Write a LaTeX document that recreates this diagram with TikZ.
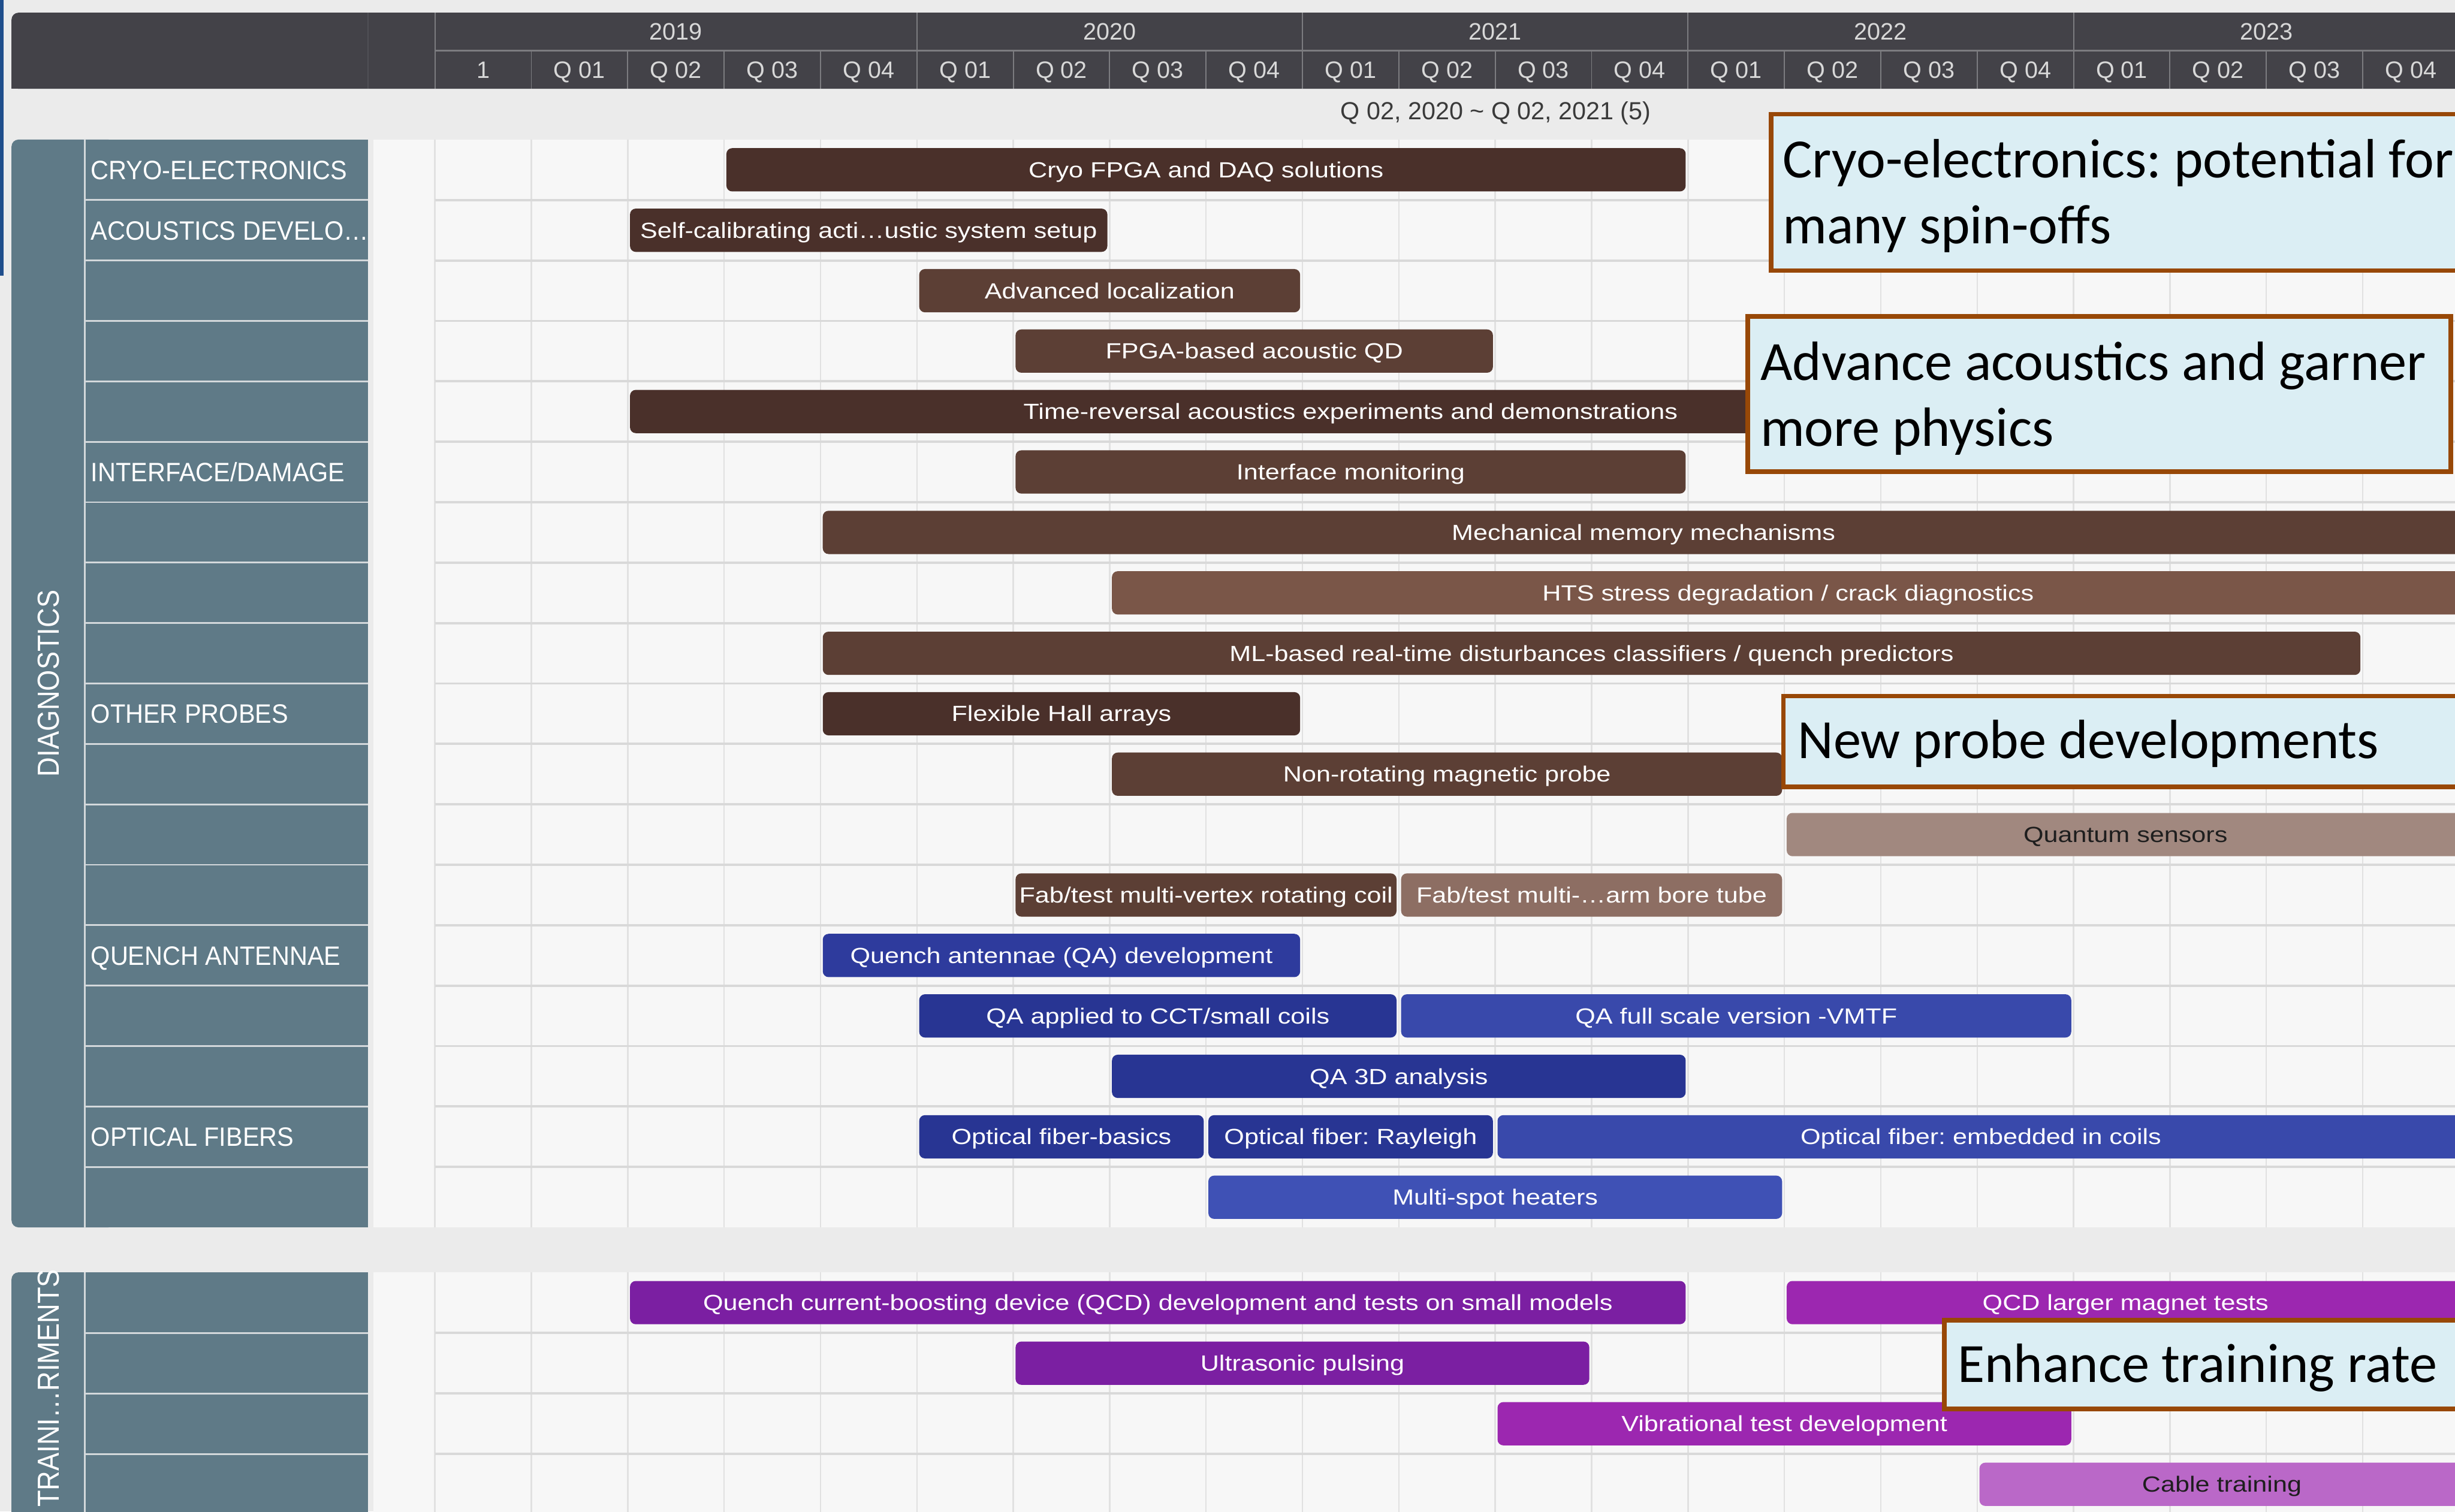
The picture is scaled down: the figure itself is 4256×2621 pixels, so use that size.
\documentclass[tikz,border=0pt]{standalone}
\usepackage{fontspec}
\setmainfont{Liberation Sans}
\newfontfamily\calloutfont{Carlito}
\usepackage{graphicx}
\frenchspacing

% palette
\definecolor{pagebg}{HTML}{EBEBEB}
\definecolor{edgeblue}{HTML}{1F4E8C}
\definecolor{gridbg}{HTML}{F7F7F7}
\definecolor{gridline}{HTML}{E1E1E1}
\definecolor{gridlineH}{HTML}{D9D9D9}
\definecolor{headbg}{HTML}{434248}
\definecolor{headline}{HTML}{7C7C80}
\definecolor{headfaint}{HTML}{505056}
\definecolor{headtext}{HTML}{D8D8D8}
\definecolor{rangetext}{HTML}{3A3A3A}
\definecolor{slate}{HTML}{5F7A87}
\definecolor{slatesep}{HTML}{D3D8DB}
\definecolor{brA}{HTML}{4A302A}
\definecolor{brB}{HTML}{5C3F35}
\definecolor{brC}{HTML}{7A5648}
\definecolor{brD}{HTML}{8D6E63}
\definecolor{brE}{HTML}{A1887F}
\definecolor{inA}{HTML}{283593}
\definecolor{inB}{HTML}{2E3B9D}
\definecolor{inC}{HTML}{3949AB}
\definecolor{inD}{HTML}{3F51B5}
\definecolor{puA}{HTML}{7B1FA2}
\definecolor{puB}{HTML}{9C27B0}
\definecolor{puC}{HTML}{BA68C8}
\definecolor{darktext}{HTML}{1E1E1E}
\definecolor{noteFill}{HTML}{DBEEF4}
\definecolor{noteLine}{HTML}{984807}

% type
\newcommand{\barfont}{\fontsize{10.8pt}{12pt}\selectfont}
\newcommand{\catfont}{\fontsize{13.1pt}{15pt}\selectfont}
\newcommand{\grpfont}{\fontsize{15pt}{17pt}\selectfont}
\newcommand{\headfont}{\fontsize{11.7pt}{13pt}\selectfont}
\newcommand{\notefont}{\calloutfont\fontsize{27.3pt}{32pt}\selectfont}
\newcommand{\hwide}[1]{\scalebox{1.18}[1]{#1}}
\newcommand{\hnarrow}[1]{\scalebox{0.89}[1]{#1}}
\newcommand{\hcat}[1]{\scalebox{0.935}[1]{#1}}

% one task bar: name, centre y, start quarter, end quarter, fill, text colour, label
\newcommand{\gbar}[7]{%
  \pgfmathsetmacro{\xa}{754+#3*167.1+4}%
  \pgfmathsetmacro{\xb}{min(754+#4*167.1-4,4272)}%
  \pgfmathsetmacro{\xm}{(\xa+\xb)/2}%
  \pgfmathsetmacro{\bw}{(\xb-\xa)*0.01}%
  \node[barbox, fill=#5, text=#6, minimum width=\bw cm] (#1) at (\xm,#2) {\hwide{#7}};%
}

\begin{document}
\begin{tikzpicture}[x=0.01cm, y=-0.01cm,
  barbox/.style={rectangle, rounded corners=0.1cm, inner sep=0pt, minimum height=0.75cm,
                 text height=0.27cm, text depth=0pt, font=\barfont},
  cat/.style={anchor=base west, inner sep=0pt, text=white, font=\catfont},
  grp/.style={rotate=90, inner sep=0pt, text=white, font=\grpfont},
  hlab/.style={inner sep=0pt, text=headtext, font=\headfont, text height=0.29cm, text depth=0pt},
  notebox/.style={draw=noteLine, fill=noteFill, line width=0.08cm, inner sep=0pt},
  notetext/.style={anchor=base west, inner sep=0pt, font=\notefont, text=black},
  gridv/.style={draw=gridline, line width=0.025cm},
  gridh/.style={draw=gridlineH, line width=0.04cm},
  sep/.style={draw=slatesep, line width=0.03cm},
]
\useasboundingbox (0,0) rectangle (4256,2621);
\clip (0,0) rectangle (4256,2621);
\fill[pagebg] (0,0) rectangle (4256,2621);
\fill[edgeblue] (0,0) rectangle (6,478);

% ---------- timeline header ----------
\fill[headbg, rounded corners=0.12cm] (20,22) rectangle (4400,154);
\fill[headbg] (20,100) rectangle (80,154);
\draw[headfaint, line width=0.02cm] (638,22) -- (638,154);
\draw[headline, line width=0.03cm] (754,88) -- (4300,88);
\foreach \k in {0,5,9,13,17,21}
  \draw[headline, line width=0.02cm] ({754+\k*167.1},22) -- ({754+\k*167.1},154);
\foreach \k in {1,2,3,4,6,7,8,10,11,12,14,15,16,18,19,20}
  \draw[headline, line width=0.02cm] ({754+\k*167.1},88) -- ({754+\k*167.1},154);

\node[hlab] (y2019) at (1171.8,55) {2019};
\node[hlab] (y2020) at (1923.7,55) {2020};
\node[hlab] (y2021) at (2592.1,55) {2021};
\node[hlab] (y2022) at (3260.5,55) {2022};
\node[hlab] (y2023) at (3928.9,55) {2023};
\node[hlab] (q0) at ({754+0.5*167.1},121) {1};
\foreach \k in {1,...,20}{
  \pgfmathtruncatemacro{\qn}{mod(\k-1,4)+1}
  \node[hlab] (q\k) at ({754+(\k+0.5)*167.1},121) {Q 0\qn};
}
\node[hlab, text=rangetext, font=\fontsize{12.2pt}{14pt}\selectfont] (range) at (2593,193)
  {Q 02, 2020 \textasciitilde\ Q 02, 2021 (5)};

% ---------- grid area ----------
\fill[gridbg] (647,242) rectangle (4300,2128);
\fill[gridbg] (647,2206) rectangle (4300,2700);
\foreach \k in {0,...,21}{
  \draw[gridv] ({754+\k*167.1},242) -- ({754+\k*167.1},2128);
  \draw[gridv] ({754+\k*167.1},2206) -- ({754+\k*167.1},2700);
}
\foreach \i in {1,...,17}
  \draw[gridh] (754,{242+\i*104.78}) -- (4300,{242+\i*104.78});
\foreach \j in {1,2,3}
  \draw[gridh] (754,{2206+\j*105}) -- (4300,{2206+\j*105});

% ---------- row headers ----------
\fill[slate, rounded corners=0.12cm] (20,242) rectangle (200,2128);
\fill[slate] (146,242) rectangle (638,2128);
\fill[slate, rounded corners=0.12cm] (20,2206) rectangle (200,2760);
\fill[slate] (146,2206) rectangle (638,2760);
\draw[sep] (147,242) -- (147,2128);
\draw[sep] (147,2206) -- (147,2700);
\foreach \i in {1,...,17}
  \draw[sep] (148,{242+\i*104.78}) -- (638,{242+\i*104.78});
\foreach \j in {1,2,3}
  \draw[sep] (148,{2206+\j*105}) -- (638,{2206+\j*105});

\node[grp] (gDiag) at (84,1185) {\hnarrow{DIAGNOSTICS}};
\node[grp] (gTrain) at (84,2407) {\hnarrow{TRAINI…RIMENTS}};

\node[cat] (cCryo) at (157,311.0) {\hcat{CRYO-ELECTRONICS}};
\node[cat] (cAcou) at (157,415.7) {\hcat{ACOUSTICS DEVELO…}};
\node[cat] (cIntf) at (157,834.8) {\hcat{INTERFACE/DAMAGE}};
\node[cat] (cProb) at (157,1254.0) {\hcat{OTHER PROBES}};
\node[cat] (cQant) at (157,1673.1) {\hcat{QUENCH ANTENNAE}};
\node[cat] (cOpti) at (157,1987.5) {\hcat{OPTICAL FIBERS}};

% ---------- task bars ----------
\gbar{b1}{294.4}{3}{13}{brA}{white}{Cryo FPGA and DAQ solutions}
\gbar{b2}{399.2}{2}{7}{brA}{white}{Self-calibrating acti…ustic system setup}
\gbar{b3}{504.0}{5}{9}{brB}{white}{Advanced localization}
\gbar{b4}{608.7}{6}{11}{brB}{white}{FPGA-based acoustic QD}
\gbar{b5}{713.5}{2}{17}{brA}{white}{Time-reversal acoustics experiments and demonstrations}
\gbar{b6}{818.3}{6}{13}{brB}{white}{Interface monitoring}
\gbar{b7}{923.1}{4}{30}{brB}{white}{Mechanical memory mechanisms}
\gbar{b8}{1027.9}{7}{30}{brC}{white}{HTS stress degradation / crack diagnostics}
\gbar{b9}{1132.7}{4}{20}{brB}{white}{ML-based real-time disturbances classifiers / quench predictors}
\gbar{b10}{1237.5}{4}{9}{brA}{white}{Flexible Hall arrays}
\gbar{b11}{1342.3}{7}{14}{brB}{white}{Non-rotating magnetic probe}
\gbar{b12}{1447.0}{14}{30}{brE}{darktext}{Quantum sensors}
\gbar{b13a}{1551.8}{6}{10}{brB}{white}{Fab/test multi-vertex rotating coil}
\gbar{b13b}{1551.8}{10}{14}{brD}{white}{Fab/test multi-…arm bore tube}
\gbar{b14}{1656.6}{4}{9}{inB}{white}{Quench antennae (QA) development}
\gbar{b15a}{1761.4}{5}{10}{inA}{white}{QA applied to CCT/small coils}
\gbar{b15b}{1761.4}{10}{17}{inC}{white}{QA full scale version -VMTF}
\gbar{b16}{1866.2}{7}{13}{inA}{white}{QA 3D analysis}
\gbar{b17a}{1971.0}{5}{8}{inA}{white}{Optical fiber-basics}
\gbar{b17b}{1971.0}{8}{11}{inA}{white}{Optical fiber: Rayleigh}
\gbar{b17c}{1971.0}{11}{30}{inC}{white}{Optical fiber: embedded in coils}
\gbar{b18}{2075.8}{8}{14}{inD}{white}{Multi-spot heaters}

\gbar{t1a}{2258.5}{2}{13}{puA}{white}{Quench current-boosting device (QCD) development and tests on small models}
\gbar{t1b}{2258.5}{14}{30}{puB}{white}{QCD larger magnet tests}
\gbar{t2}{2363.5}{6}{12}{puA}{white}{Ultrasonic pulsing}
\gbar{t3}{2468.5}{11}{17}{puB}{white}{Vibrational test development}
\gbar{t4}{2573.5}{16}{30}{puC}{darktext}{Cable training}

% ---------- call-out boxes ----------
\node[notebox, minimum width=12.29cm, minimum height=2.71cm] (nCryo) at (3685.5,333.5) {};
\node[notetext] (nCryo1) at (3090,308) {Cryo-electronics: potential for};
\node[notetext] (nCryo2) at (3090,422) {many spin-offs};

\node[notebox, minimum width=12.18cm, minimum height=2.69cm] (nAcou) at (3639,683.5) {};
\node[notetext] (nAcou1) at (3051,659) {Advance acoustics and garner};
\node[notetext] (nAcou2) at (3051,774) {more physics};

\node[notebox, minimum width=12.08cm, minimum height=1.57cm] (nProbe) at (3696,1285.5) {};
\node[notetext] (nProbe1) at (3116,1315) {New probe developments};

\node[notebox, minimum width=9.29cm, minimum height=1.54cm] (nTrain) at (3835.5,2366) {};
\node[notetext] (nTrain1) at (3393,2397) {Enhance training rate};
\end{tikzpicture}
\end{document}
